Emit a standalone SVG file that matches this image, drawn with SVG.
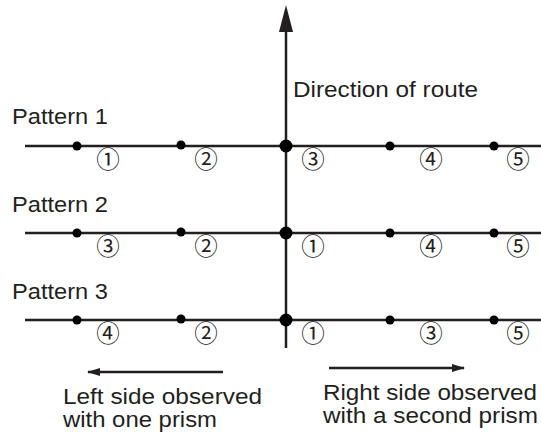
<svg xmlns="http://www.w3.org/2000/svg" width="541" height="434" viewBox="0 0 541 434">
<defs>
<marker id="ah" markerWidth="13" markerHeight="8" refX="12" refY="4" orient="auto" markerUnits="userSpaceOnUse"><path d="M0,0 L13,4 L0,8 z" fill="#231f20"/></marker>
</defs>
<style>
.t{font-family:"Liberation Sans",Arial,sans-serif;font-size:22px;fill:#231f20}
.n{font-family:"Noto Sans CJK JP","DejaVu Sans",sans-serif;font-size:23.5px;fill:#231f20;text-anchor:middle}
.ln{stroke:#231f20;stroke-width:2.5;fill:none}
.d{fill:#000}
</style>
<g id="connectors">
<line class="ln" x1="286" y1="348" x2="286" y2="28" stroke-width="3"/>
<polygon points="286,5 279,32 293,32" fill="#231f20"/>
<line class="ln" x1="25" y1="146" x2="541" y2="146"/>
<line class="ln" x1="25" y1="233" x2="541" y2="233"/>
<line class="ln" x1="25" y1="320" x2="541" y2="320"/>
<line class="ln" x1="223" y1="372" x2="88" y2="372" stroke-width="2" marker-end="url(#ah)"/>
<line class="ln" x1="329" y1="368" x2="464" y2="368" stroke-width="2" marker-end="url(#ah)"/>
</g>
<g id="route-label"><text class="t" x="293" y="97" textLength="185" lengthAdjust="spacingAndGlyphs">Direction of route</text></g>
<g id="pattern1">
<text class="t" x="12" y="124" textLength="96" lengthAdjust="spacingAndGlyphs">Pattern 1</text>
<circle class="d" cx="77" cy="146" r="4.5"/><circle class="d" cx="181" cy="145" r="4.5"/><circle class="d" cx="286" cy="146" r="6.5"/><circle class="d" cx="390" cy="146" r="4.5"/><circle class="d" cx="494" cy="146" r="4.5"/>
<text class="n" x="108" y="168">①</text><text class="n" x="206" y="168">②</text><text class="n" x="313" y="168">③</text><text class="n" x="431" y="168">④</text><text class="n" x="518" y="168">⑤</text>
</g>
<g id="pattern2">
<text class="t" x="12" y="212" textLength="96" lengthAdjust="spacingAndGlyphs">Pattern 2</text>
<circle class="d" cx="77" cy="233" r="4.5"/><circle class="d" cx="181" cy="232" r="4.5"/><circle class="d" cx="286" cy="233" r="6.5"/><circle class="d" cx="390" cy="233" r="4.5"/><circle class="d" cx="494" cy="233" r="4.5"/>
<text class="n" x="108" y="255">③</text><text class="n" x="206" y="255">②</text><text class="n" x="313" y="255">①</text><text class="n" x="431" y="255">④</text><text class="n" x="518" y="255">⑤</text>
</g>
<g id="pattern3">
<text class="t" x="12" y="299" textLength="96" lengthAdjust="spacingAndGlyphs">Pattern 3</text>
<circle class="d" cx="77" cy="320" r="4.5"/><circle class="d" cx="181" cy="319" r="4.5"/><circle class="d" cx="286" cy="320" r="6.5"/><circle class="d" cx="390" cy="320" r="4.5"/><circle class="d" cx="494" cy="320" r="4.5"/>
<text class="n" x="108" y="342">④</text><text class="n" x="206" y="342">②</text><text class="n" x="313" y="342">①</text><text class="n" x="431" y="342">③</text><text class="n" x="518" y="342">⑤</text>
</g>
<g id="left-label"><text class="t" x="63" y="404" textLength="199" lengthAdjust="spacingAndGlyphs">Left side observed</text><text class="t" x="63" y="427" textLength="154" lengthAdjust="spacingAndGlyphs">with one prism</text></g>
<g id="right-label"><text class="t" x="323" y="400" textLength="214" lengthAdjust="spacingAndGlyphs">Right side observed</text><text class="t" x="323" y="423" textLength="215" lengthAdjust="spacingAndGlyphs">with a second prism</text></g>
</svg>
